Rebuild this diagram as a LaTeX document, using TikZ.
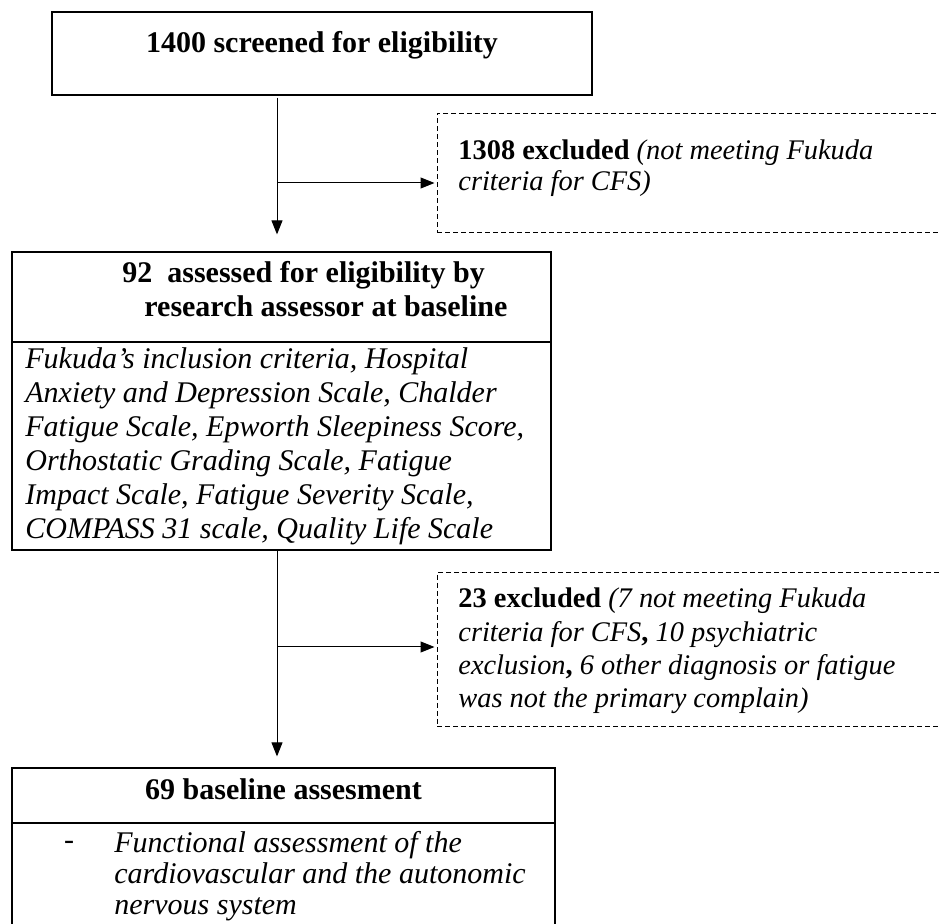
\documentclass[tikz,border=0pt]{standalone}
\usepackage{fontspec}
\setmainfont{Liberation Serif}
\usetikzlibrary{positioning, arrows.meta, calc}

\tikzset{
  solidbox/.style={draw, line width=0.6pt, inner sep=0pt},
  dashbox/.style={draw, dash pattern=on 2.5pt off 1.5pt, line width=0.5pt, inner sep=0pt},
  flowarrow/.style={-{Triangle[length=7pt,width=5.5pt]}, line width=0.5pt},
  txt/.style={inner sep=0pt, align=left, font=\fontsize{15}{17}\selectfont},
}

\begin{document}
\begin{tikzpicture}[x=0.5pt, y=-0.5pt]
\useasboundingbox (0,0) rectangle (939,924);
\clip (0,0) rectangle (939,924);

% boxes
\node[solidbox, minimum width=270pt, minimum height=41.5pt] (screen) at (322,53.5) {};
\node[solidbox, minimum width=269.5pt, minimum height=45pt] (assesshead) at (281.5,297) {};
\node[solidbox, minimum width=269.5pt, minimum height=104pt] (assesslist) at (281.5,446) {};
\node[solidbox, minimum width=271.5pt, minimum height=27.5pt] (basehead) at (283.5,795.5) {};
\node[solidbox, minimum width=271.5pt, minimum height=70pt] (baselist) at (283.5,893) {};
\node[dashbox, minimum width=261pt, minimum height=59.5pt] (excl1) at (698,173) {};
\node[dashbox, minimum width=261pt, minimum height=77pt] (excl2) at (698,650) {};

% texts
\node[txt] (screentxt) at (322,45) {\textbf{1400 screened for eligibility}};
\node[txt, anchor=west] (assesstxt) at (122,289)
  {\textbf{92~ assessed for eligibility by}\\
   \hspace*{11pt}\textbf{research assessor at baseline}};
\node[txt, anchor=north west] (listtxt) at (25,347)
  {\itshape Fukuda’s inclusion criteria, Hospital\\
   \itshape Anxiety and Depression Scale, Chalder\\
   \itshape Fatigue Scale, Epworth Sleepiness Score,\\
   \itshape Orthostatic Grading Scale, Fatigue\\
   \itshape Impact Scale, Fatigue Severity Scale,\\
   \itshape COMPASS 31 scale, Quality Life Scale};
\node[txt, anchor=west, font=\fontsize{14.2}{15.5}\selectfont] (excl1txt) at (458,168)
  {\textbf{1308 excluded} \textit{(not meeting Fukuda}\\
   \textit{criteria for CFS)}};
\node[txt, anchor=west, font=\fontsize{14.2}{16.7}\selectfont] (excl2txt) at (458,651)
  {\textbf{23 excluded} \textit{(7 not meeting Fukuda}\\
   \textit{criteria for CFS}\textbf{,} \textit{10 psychiatric}\\
   \textit{exclusion}\textbf{,} \textit{6 other diagnosis or fatigue}\\
   \textit{was not the primary complain)}};
\node[txt] (basetxt) at (283.5,789) {\textbf{69 baseline assesment}};
\node[txt] (dashmark) at (69,845) {-};
\node[txt, anchor=north west, font=\fontsize{15}{15.5}\selectfont] (baselisttxt) at (114,831)
  {\itshape Functional assessment of the\\
   \itshape cardiovascular and the autonomic\\
   \itshape nervous system};

% connectors
\coordinate (split1) at (277,183);
\coordinate (split2) at (277,647);
\draw[flowarrow, shorten <=1pt, shorten >=8.5pt] (screen.south -| split1) -- (assesshead.north -| split1);
\draw[flowarrow, shorten >=1pt] (split1) -- (split1 -| excl1.west);
\draw[flowarrow, shorten >=5.5pt] (assesslist.south -| split2) -- (basehead.north -| split2);
\draw[flowarrow, shorten >=1pt] (split2) -- (split2 -| excl2.west);
\end{tikzpicture}
\end{document}
